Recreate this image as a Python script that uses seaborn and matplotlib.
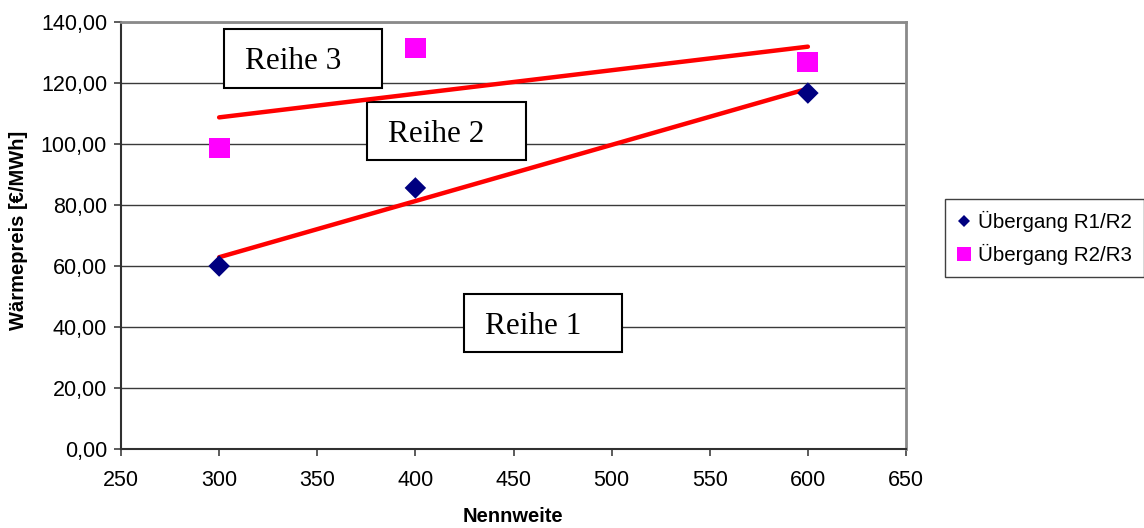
import numpy as np
import pandas as pd
import matplotlib
matplotlib.use("Agg")
import matplotlib.pyplot as plt
from matplotlib.patches import Rectangle
from matplotlib.lines import Line2D
from matplotlib.ticker import FuncFormatter
import seaborn as sns

# --- data -------------------------------------------------------------
nennweite = [300, 400, 600]
preis_r1_r2 = [60.0, 85.6, 116.7]
preis_r2_r3 = [98.7, 131.5, 126.9]
series_labels = ["Übergang R1/R2", "Übergang R2/R3"]
region_labels = ["Reihe 3", "Reihe 2", "Reihe 1"]
x_ticks = [250, 300, 350, 400, 450, 500, 550, 600, 650]
y_ticks = [0, 20, 40, 60, 80, 100, 120, 140]
x_title = "Nennweite"
y_title = "Wärmepreis [€/MWh]"

df = pd.DataFrame({
    "Nennweite": nennweite * 2,
    "Wärmepreis": preis_r1_r2 + preis_r2_r3,
    "Serie": [s for s in series_labels for _ in nennweite],
})

# --- style ------------------------------------------------------------
sns.set_style("white")
plt.rcParams["font.family"] = ["Liberation Sans", "DejaVu Sans"]
plt.rcParams["text.color"] = "black"
plt.rcParams["axes.labelcolor"] = "black"

W, H = 1144, 528
fig = plt.figure(figsize=(W / 100, H / 100), dpi=100)
ax_l, ax_r, ax_t, ax_b = 121, 906, 22, 449
ax = fig.add_axes([ax_l / W, (H - ax_b) / H, (ax_r - ax_l) / W, (ax_b - ax_t) / H])

colors = {series_labels[0]: "#000080", series_labels[1]: "#FF00FF"}
markers = {series_labels[0]: "D", series_labels[1]: "s"}
sizes = {series_labels[0]: 120, series_labels[1]: 225}

# horizontal grid
ax.set_axisbelow(True)
ax.yaxis.grid(True, color="#3a3a3a", linewidth=1.0)
ax.xaxis.grid(False)

# linear trend lines per series
for lab in series_labels:
    sub = df[df["Serie"] == lab]
    sns.regplot(data=sub, x="Nennweite", y="Wärmepreis", ax=ax, scatter=False,
                ci=None, truncate=True,
                line_kws=dict(color="#FF0000", linewidth=3.2,
                              solid_capstyle="round", zorder=4))

sns.scatterplot(data=df, x="Nennweite", y="Wärmepreis", hue="Serie",
                style="Serie", size="Serie", palette=colors, markers=markers,
                sizes=sizes, linewidth=0, legend=False, ax=ax, zorder=5)

ax.set_xlim(250, 650)
ax.set_ylim(0, 140)
ax.set_xticks(x_ticks)
ax.set_yticks(y_ticks)
ax.yaxis.set_major_formatter(FuncFormatter(lambda v, p: f"{v:.2f}".replace(".", ",")))
ax.tick_params(axis="both", which="major", direction="out", length=5, width=1.2,
               color="#404040", labelsize=15.5, labelcolor="black",
               bottom=True, left=True)
ax.tick_params(axis="x", pad=10)
ax.tick_params(axis="y", pad=5)

for side in ("left", "bottom"):
    ax.spines[side].set_color("#303030")
    ax.spines[side].set_linewidth(1.5)
for side in ("top", "right"):
    ax.spines[side].set_color("#8a8a8a")
    ax.spines[side].set_linewidth(2.0)

# axis titles
aw, ah = ax_r - ax_l, ax_b - ax_t
ax.set_xlabel(x_title, fontsize=14.5, fontweight="bold", color="black")
ax.xaxis.set_label_coords((513 - ax_l) / aw, (ax_b - 517) / ah)
ax.xaxis.label.set_va("center")
ax.set_ylabel(y_title, fontsize=14.5, fontweight="bold", color="black")
ax.yaxis.set_label_coords((18 - ax_l) / aw, (ax_b - 230) / ah)
ax.yaxis.label.set_va("center")

# region annotation boxes (left, top, right, bottom in pixels)
boxes = [(224, 29, 382, 88), (367, 102, 526, 160), (464, 294, 622, 352)]
for lab, (bl, bt, br, bb) in zip(region_labels, boxes):
    ax.add_patch(Rectangle(((bl - ax_l) / aw, (ax_b - bb) / ah),
                           (br - bl) / aw, (bb - bt) / ah,
                           transform=ax.transAxes, facecolor="white",
                           edgecolor="black", linewidth=1.5, zorder=3))
    ax.text((bl + 21 - ax_l) / aw, (ax_b - (bt + 40)) / ah, lab,
            transform=ax.transAxes, ha="left", va="baseline",
            fontsize=22.5, family=["Liberation Serif", "DejaVu Serif"],
            color="black", zorder=3.5)

# legend
handles = [
    Line2D([], [], linestyle="none", marker="D", markersize=6.5,
           markerfacecolor=colors[series_labels[0]], markeredgewidth=0),
    Line2D([], [], linestyle="none", marker="s", markersize=9.5,
           markerfacecolor=colors[series_labels[1]], markeredgewidth=0),
]
leg = fig.legend(handles, series_labels, loc="center",
                 bbox_to_anchor=((948 + 1141) / 2 / W, 1 - (199 + 277) / 2 / H),
                 fontsize=14.8, frameon=True, fancybox=False, framealpha=1,
                 edgecolor="#404040", handlelength=0.7, handletextpad=0.3,
                 borderpad=0.6, labelspacing=0.55, borderaxespad=0)
leg.get_frame().set_linewidth(1.0)
for t in leg.get_texts():
    t.set_color("black")

fig.savefig("out.png", dpi=100, facecolor="white")
